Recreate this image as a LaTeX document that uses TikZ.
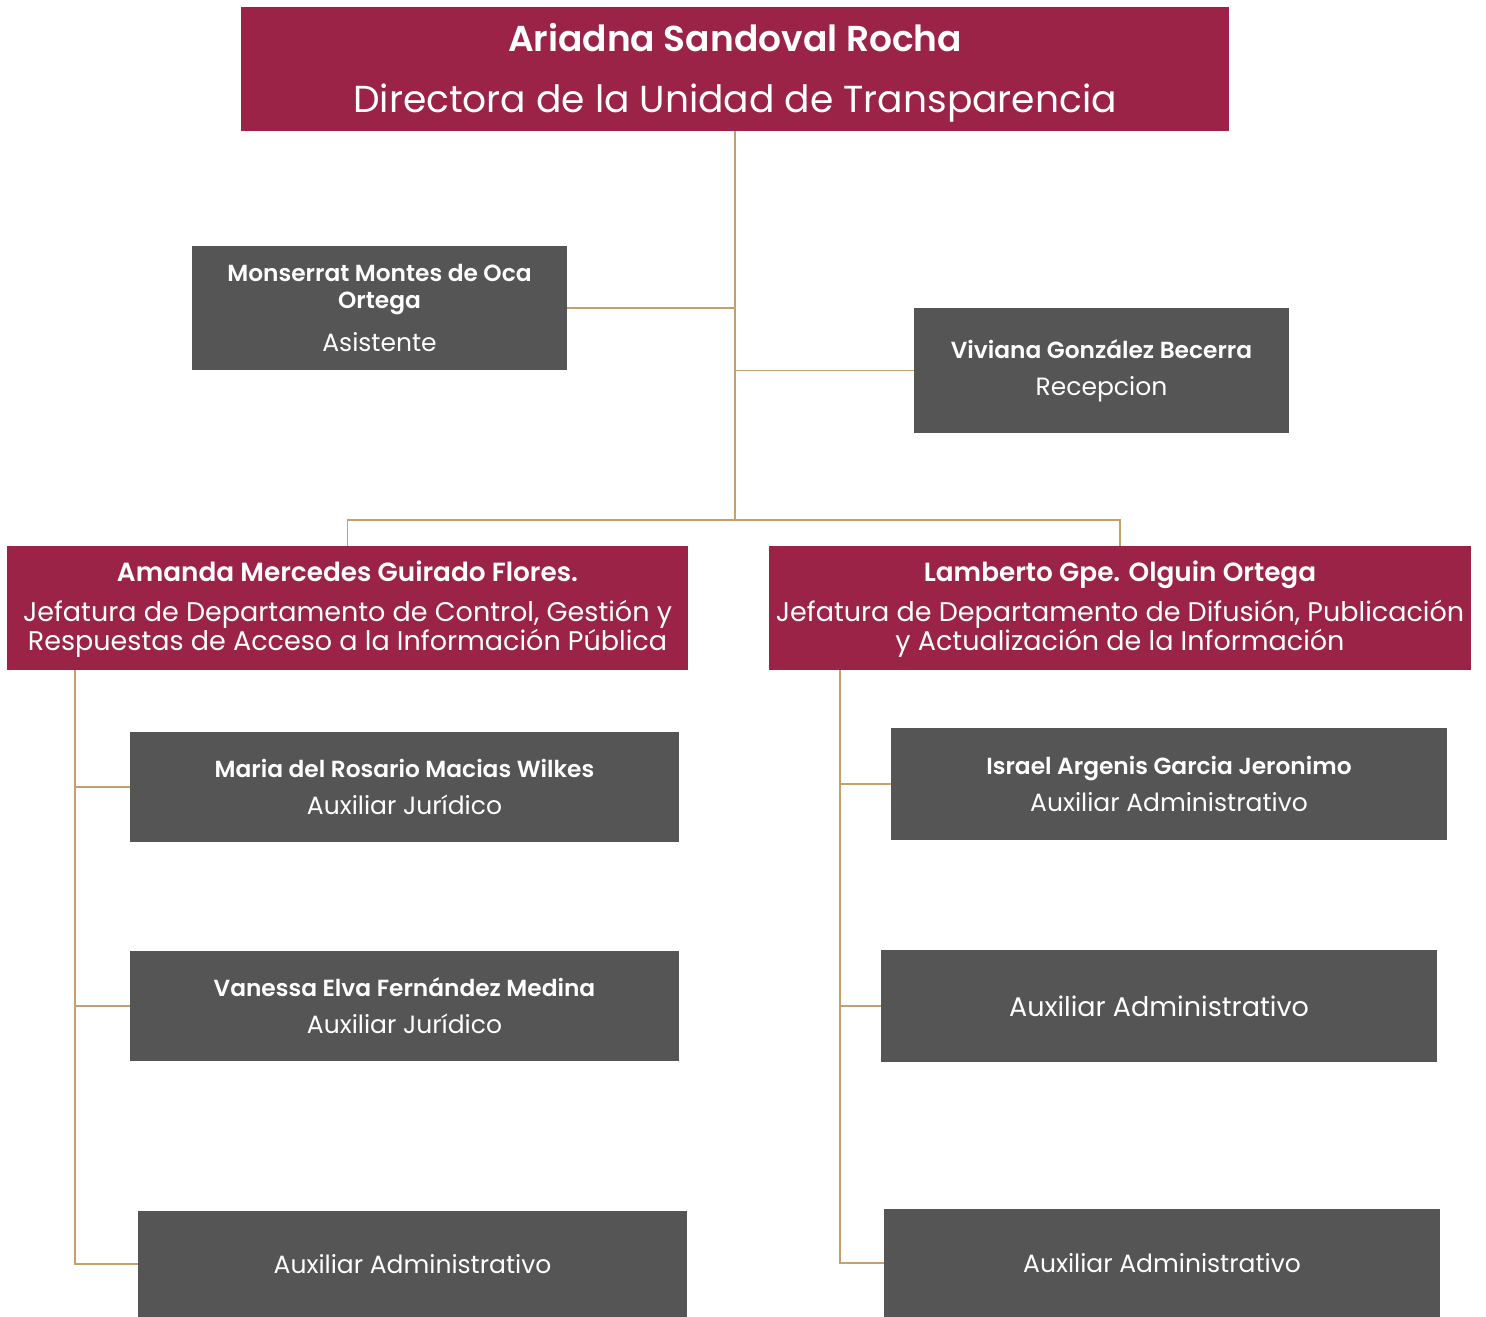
\documentclass[tikz,border=0pt]{standalone}
\usepackage{fontspec}
\setmainfont{Poppins}[BoldFont={Poppins SemiBold}]
\definecolor{maroon}{HTML}{9C2348}
\definecolor{boxgray}{HTML}{555555}
\definecolor{linetan}{HTML}{C4A06E}
\newcommand{\nmfont}{\fontsize{23.3}{28}\selectfont\bfseries}
\newcommand{\rolefont}{\fontsize{25}{30}\selectfont}
\newcommand{\hdname}{\fontsize{26.3}{31}\selectfont\bfseries}
\newcommand{\hdrole}{\fontsize{27}{29}\selectfont}
\begin{document}
\begin{tikzpicture}[x=1pt,y=-1pt,
  anybox/.style={text=white, inner sep=0pt, align=center},
  headbox/.style={anybox, fill=maroon},
  graybox/.style={anybox, fill=boxgray},
  conn/.style={draw=linetan, line width=1.4pt}]
\useasboundingbox (0,0) rectangle (1486,1317);
% top
\node[headbox, minimum width=988pt, minimum height=124pt, font=\fontsize{37.6}{61}\selectfont] (top) at (735,69)
  {\rule{0pt}{35pt}\fontsize{36}{61}\selectfont\bfseries Ariadna Sandoval Rocha\\ Directora de la Unidad de Transparencia};
% assistants
\node[graybox, minimum width=375pt, minimum height=124pt, font=\fontsize{23.3}{27}\selectfont] (mon) at (379.5,308)
  {\nmfont Monserrat Montes de Oca\\ \nmfont Ortega\\[16pt] \rolefont Asistente};
\node[graybox, minimum width=375pt, minimum height=125pt, font=\fontsize{23.3}{37}\selectfont] (viv) at (1101.5,370.5)
  {\nmfont Viviana González Becerra\\ \rolefont Recepcion};
% department heads
\node[headbox, minimum width=681pt, minimum height=124pt, font=\fontsize{27}{29}\selectfont] (ama) at (347.5,608)
  {\rule{0pt}{23.5pt}\hdname Amanda Mercedes Guirado Flores.\\[11pt] \hdrole Jefatura de Departamento de Control, Gestión y\\ \hdrole Respuestas de Acceso a la Información Pública};
\node[headbox, minimum width=702pt, minimum height=124pt, font=\fontsize{27}{29}\selectfont] (lam) at (1120,608)
  {\rule{0pt}{23.5pt}\hdname Lamberto Gpe. Olguin Ortega\\[11pt] \hdrole Jefatura de Departamento de Difusión, Publicación\\ \hdrole y Actualización de la Información};
% left staff
\node[graybox, minimum width=549pt, minimum height=110pt, font=\fontsize{23.3}{37}\selectfont] (mar) at (404.5,787)
  {\nmfont Maria del Rosario Macias Wilkes\\ \rolefont Auxiliar Jurídico};
\node[graybox, minimum width=549pt, minimum height=110pt, font=\fontsize{23.3}{37}\selectfont] (van) at (404.5,1006)
  {\nmfont Vanessa Elva Fernández Medina\\ \rolefont Auxiliar Jurídico};
\node[graybox, minimum width=549pt, minimum height=106pt] (axl) at (412.5,1264)
  {\rolefont Auxiliar Administrativo};
% right staff
\node[graybox, minimum width=556pt, minimum height=112pt, font=\fontsize{23.3}{37}\selectfont] (isr) at (1169,784)
  {\nmfont Israel Argenis Garcia Jeronimo\\ \rolefont Auxiliar Administrativo};
\node[graybox, minimum width=556pt, minimum height=112pt] (axr) at (1159,1006)
  {\fontsize{27}{32}\selectfont Auxiliar Administrativo};
\node[graybox, minimum width=556pt, minimum height=108pt] (axs) at (1162,1263)
  {\rolefont Auxiliar Administrativo};
% connectors
\coordinate (bus) at (735,520);
\coordinate (lt) at (75,670);
\coordinate (rt) at (840,670);
\draw[conn] (top.south) -- (bus);
\draw[conn] (mon.east) -- (mon.east -| top.south);
\draw[conn] (viv.west) -- (viv.west -| top.south);
\draw[conn] (ama.north) |- (bus) -| (lam.north);
\draw[conn] (lt) |- (axl.west);
\draw[conn] (lt |- mar.west) -- (mar.west);
\draw[conn] (lt |- van.west) -- (van.west);
\draw[conn] (rt) |- (axs.west);
\draw[conn] (rt |- isr.west) -- (isr.west);
\draw[conn] (rt |- axr.west) -- (axr.west);
\end{tikzpicture}
\end{document}
